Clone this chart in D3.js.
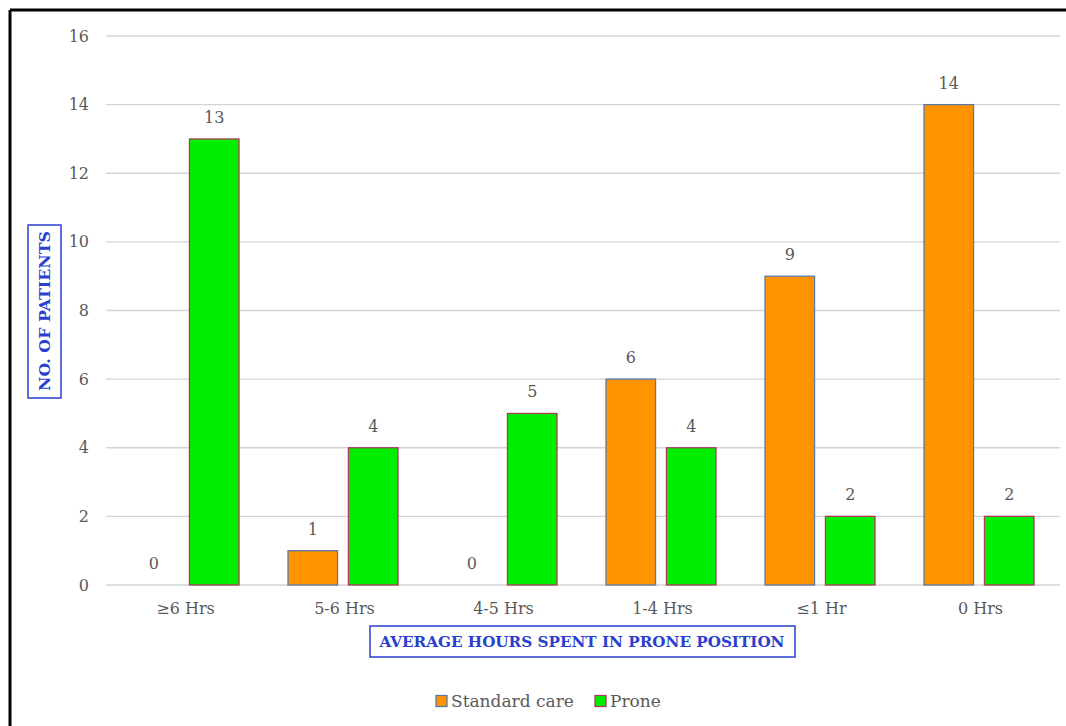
<!DOCTYPE html>
<html>
<head>
<meta charset="utf-8">
<script src="https://cdn.jsdelivr.net/npm/d3@7"></script>
<style>
  body { margin: 0; background: #fff; }
  svg text { font-family: "DejaVu Serif", "Liberation Serif", serif; }
</style>
</head>
<body>
<div id="chart"></div>
<script>
// data
const categories = ["≥6 Hrs", "5-6 Hrs", "4-5 Hrs", "1-4 Hrs", "≤1 Hr", "0 Hrs"];
const standardCare = [0, 1, 0, 6, 9, 14];
const prone = [13, 4, 5, 4, 2, 2];
const seriesNames = ["Standard care", "Prone"];
const yTicks = [0, 2, 4, 6, 8, 10, 12, 14, 16];

const width = 1066, height = 726;
const margin = {top: 36, right: 6, bottom: 141, left: 106};

const svg = d3.select("#chart")
  .append("svg")
  .attr("width", width)
  .attr("height", height);

// frame lines at top and left
svg.append("line").attr("x1", 10).attr("x2", width).attr("y1", 10).attr("y2", 10)
  .attr("stroke", "#000").attr("stroke-width", 3);
svg.append("line").attr("x1", 10).attr("x2", 10).attr("y1", 10).attr("y2", height)
  .attr("stroke", "#000").attr("stroke-width", 3);

const x = d3.scaleBand()
  .domain(categories)
  .range([margin.left, width - margin.right])
  .paddingInner(0)
  .paddingOuter(0);

const x1 = d3.scaleBand()
  .domain(seriesNames)
  .range([23, 133])
  .paddingInner(0.18);

const y = d3.scaleLinear()
  .domain([0, 16])
  .range([height - margin.bottom, margin.top]);

const colors = {"Standard care": "#ff9300", "Prone": "#00ee00"};
const strokes = {"Standard care": "#5a7aa8", "Prone": "#b03a5a"};

// gridlines
svg.append("g")
  .selectAll("line")
  .data(yTicks)
  .join("line")
  .attr("x1", margin.left)
  .attr("x2", width - margin.right)
  .attr("y1", d => y(d))
  .attr("y2", d => y(d))
  .attr("stroke", "#d4d4d4")
  .attr("stroke-width", 1.3);

// y tick labels
svg.append("g")
  .selectAll("text")
  .data(yTicks)
  .join("text")
  .attr("x", 89)
  .attr("y", d => y(d))
  .attr("dy", "0.35em")
  .attr("text-anchor", "end")
  .attr("fill", "#595959")
  .attr("font-size", 16)
  .text(d => d);

// bars
const rows = categories.map((c, i) => ({
  cat: c,
  values: [
    {name: "Standard care", value: standardCare[i]},
    {name: "Prone", value: prone[i]}
  ]
}));

const groups = svg.append("g")
  .selectAll("g")
  .data(rows)
  .join("g")
  .attr("transform", d => `translate(${x(d.cat)},0)`);

groups.selectAll("rect")
  .data(d => d.values.filter(v => v.value > 0))
  .join("rect")
  .attr("x", d => x1(d.name))
  .attr("y", d => y(d.value))
  .attr("width", x1.bandwidth())
  .attr("height", d => y(0) - y(d.value))
  .attr("fill", d => colors[d.name])
  .attr("stroke", d => strokes[d.name])
  .attr("stroke-width", 1.3);

groups.selectAll("text.val")
  .data(d => d.values)
  .join("text")
  .attr("class", "val")
  .attr("x", d => x1(d.name) + x1.bandwidth() / 2)
  .attr("y", d => y(d.value) - 16)
  .attr("text-anchor", "middle")
  .attr("fill", "#595959")
  .attr("font-size", 16)
  .text(d => d.value);

// x tick labels
svg.append("g")
  .selectAll("text")
  .data(categories)
  .join("text")
  .attr("x", d => x(d) + x.bandwidth() / 2)
  .attr("y", 614)
  .attr("text-anchor", "middle")
  .attr("fill", "#595959")
  .attr("font-size", 16)
  .text(d => d);

// x axis title in a box
svg.append("rect")
  .attr("x", 370).attr("y", 626).attr("width", 425).attr("height", 31)
  .attr("fill", "none").attr("stroke", "#2a3fd0").attr("stroke-width", 1.5);
svg.append("text")
  .attr("x", 582).attr("y", 642)
  .attr("dy", "0.35em")
  .attr("text-anchor", "middle")
  .attr("fill", "#2a3fd0")
  .attr("font-size", 15)
  .attr("font-weight", "bold")
  .attr("textLength", 405)
  .attr("lengthAdjust", "spacingAndGlyphs")
  .text("AVERAGE HOURS SPENT IN PRONE POSITION");

// y axis title in a box
svg.append("rect")
  .attr("x", 28).attr("y", 225).attr("width", 33).attr("height", 173)
  .attr("fill", "none").attr("stroke", "#2a3fd0").attr("stroke-width", 1.5);
svg.append("text")
  .attr("transform", "translate(45,311) rotate(-90)")
  .attr("dy", "0.35em")
  .attr("text-anchor", "middle")
  .attr("fill", "#2a3fd0")
  .attr("font-size", 15)
  .attr("font-weight", "bold")
  .attr("textLength", 160)
  .attr("lengthAdjust", "spacingAndGlyphs")
  .text("NO. OF PATIENTS");

// legend
const legendX = [436, 595];
const legend = svg.append("g")
  .selectAll("g")
  .data(seriesNames)
  .join("g")
  .attr("transform", (d, i) => `translate(${legendX[i]},701)`);

legend.append("rect")
  .attr("x", 0).attr("y", -5.5)
  .attr("width", 11).attr("height", 11)
  .attr("fill", d => colors[d])
  .attr("stroke", d => strokes[d])
  .attr("stroke-width", 1.3);

legend.append("text")
  .attr("x", 15)
  .attr("dy", "0.35em")
  .attr("fill", "#595959")
  .attr("font-size", 17)
  .text(d => d);
</script>
</body>
</html>
